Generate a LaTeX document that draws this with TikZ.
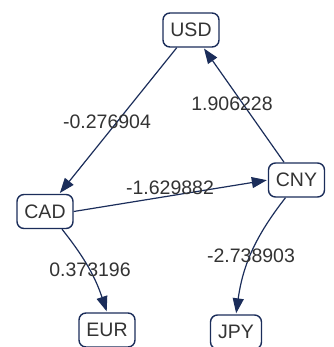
\documentclass[tikz,border=0pt]{standalone}
\usepackage{fontspec}
\setmainfont{Liberation Sans}
\usetikzlibrary{arrows.meta}
\definecolor{navy}{HTML}{1B2D5A}
\definecolor{txt}{HTML}{333333}
\begin{document}
\begin{tikzpicture}[x=1pt,y=-1pt,
  box/.style={draw=navy,line width=1.4pt,rounded corners=7pt,fill=white,
    minimum width=56pt,minimum height=34pt,inner sep=0pt,
    font=\fontsize{19.5}{22}\selectfont,text=txt},
  lbl/.style={font=\fontsize{19.5}{22}\selectfont,text=txt,inner sep=0pt},
  edge/.style={draw=navy,line width=1.2pt,-{Triangle[length=15pt,width=11pt]},shorten >=1pt}]
\useasboundingbox (0,0) rectangle (333,347);
\clip (0,0) rectangle (333,347);
\node[box] (USD) at (191,30) {USD};
\node[box] (CAD) at (45,211.5) {CAD};
\node[box] (CNY) at (296.5,180) {CNY};
\node[box] (EUR) at (107,330) {EUR};
\node[box,minimum width=51pt] (JPY) at (236,332) {JPY};
\draw[edge] (USD) -- (CAD);
\draw[edge] (CNY) -- (USD);
\draw[edge] (CAD.east) -- (CNY.west);
\draw[edge] ([xshift=17]CAD.south) to[bend left=10] (EUR.north);
\draw[edge] ([xshift=-11]CNY.south) to[bend right=15] (JPY.north);
\node[lbl] (l1) at (107,122) {-0.276904};
\node[lbl] (l2) at (232,104) {1.906228};
\node[lbl] (l3) at (170,188) {-1.629882};
\node[lbl] (l4) at (90,270) {0.373196};
\node[lbl] (l5) at (251,256) {-2.738903};
\end{tikzpicture}
\end{document}
